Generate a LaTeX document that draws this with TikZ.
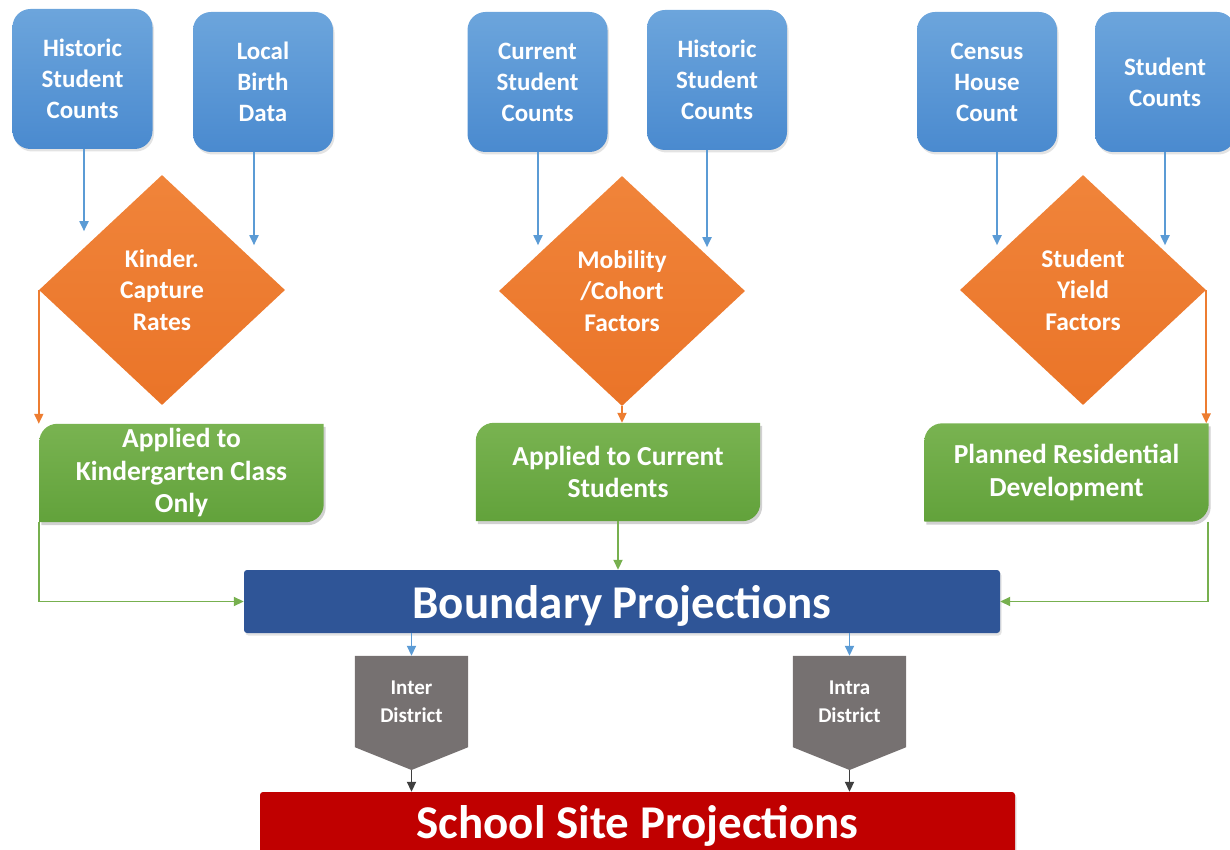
\documentclass[tikz,border=0pt]{standalone}
\usepackage{fontspec}
\setmainfont{Carlito}
\usetikzlibrary{arrows.meta,shapes.geometric,shadows,backgrounds,calc}
\definecolor{btop}{HTML}{6CA5DC}
\definecolor{bbot}{HTML}{4A8ACF}
\definecolor{otop}{HTML}{F0843A}
\definecolor{obot}{HTML}{EA7428}
\definecolor{gtop}{HTML}{79B351}
\definecolor{gbot}{HTML}{62A23B}
\definecolor{bpfill}{HTML}{2F5597}
\definecolor{redfill}{HTML}{C00000}
\definecolor{grayfill}{HTML}{767171}
\definecolor{barc}{HTML}{5B9BD5}
\definecolor{oarc}{HTML}{ED7D31}
\definecolor{garc}{HTML}{77B04F}
\definecolor{darc}{HTML}{3F3F3F}
\newcommand\greenpath[1]{%
  ($(#1.north west)+(0,18)$) .. controls ($(#1.north west)+(0,8)$) and ($(#1.north west)+(8,0)$) .. ($(#1.north west)+(18,0)$) -- (#1.north east) -- ($(#1.south east)+(0,-18)$) .. controls ($(#1.south east)+(0,-8)$) and ($(#1.south east)+(-8,0)$) .. ($(#1.south east)+(-18,0)$) -- (#1.south west) -- cycle}
\newcommand\greenbg[1]{%
  \fill[black,opacity=0.18,transform canvas={shift={(2pt,-3pt)}}] \greenpath{#1};
  \path[top color=gtop,bottom color=gbot] \greenpath{#1};}
\newcommand\pentabg[2]{%
  \fill[grayfill] (#1.north west) -- (#1.north east) -- (#1.south east) -- (#2) -- (#1.south west) -- cycle;}
\begin{document}
\begin{tikzpicture}[x=1pt,y=-1pt,
  inbox/.style={rounded corners=18pt, minimum width=140pt, minimum height=140pt,
    top color=btop, bottom color=bbot, text=white, align=center,
    font=\bfseries\fontsize{25}{31}\selectfont,
    drop shadow={opacity=0.22, shadow xshift=1.5pt, shadow yshift=-2.5pt}},
  dia/.style={diamond, minimum width=246pt, minimum height=230pt, inner sep=0pt,
    top color=otop, bottom color=obot, text=white, align=center,
    font=\bfseries\fontsize{25.5}{31.5}\selectfont},
  gbox/.style={minimum width=284pt, minimum height=98pt, inner sep=0pt, text=white,
    align=center, font=\bfseries\fontsize{27.5}{32.5}\selectfont},
  gray/.style={minimum width=113pt, minimum height=91pt, inner sep=0pt, text=white,
    align=center, font=\bfseries\fontsize{21}{28}\selectfont},
  bigbox/.style={rounded corners=3pt, text=white,
    font=\bfseries\fontsize{47}{50}\selectfont,
    drop shadow={opacity=0.22, shadow xshift=1.5pt, shadow yshift=-2.5pt}},
  arr/.style={line width=1.8pt, -{Triangle[length=10pt,width=9pt]}},
  barrow/.style={arr, barc},
  oarrow/.style={arr, oarc},
  garrow/.style={arr, garc},
  darrow/.style={arr, darc}]
\useasboundingbox (0,0) rectangle (1230,850);

% input boxes
\node[inbox] (b1) at (82.5,79) {Historic\\Student\\Counts};
\node[inbox] (b2) at (263,82) {Local\\Birth\\Data};
\node[inbox] (b3) at (537.5,82) {Current\\Student\\Counts};
\node[inbox] (b4) at (717,80) {Historic\\Student\\Counts};
\node[inbox] (b5) at (987,82) {Census\\House\\Count};
\node[inbox] (b6) at (1165,82) {Student\\Counts};

% diamonds
\node[dia] (d1) at (162,290) {Kinder.\\Capture\\Rates};
\node[dia] (d2) at (622,291) {Mobility\\/Cohort\\Factors};
\node[dia] (d3) at (1083,290) {Student\\Yield\\Factors};

% green boxes
\node[gbox] (g1) at (181.5,473) {Applied to\\Kindergarten Class\\Only};
\node[gbox] (g2) at (618,472) {Applied to Current\\Students};
\node[gbox] (g3) at (1066.5,472.5) {Planned Residential\\Development};
\begin{pgfonlayer}{background}
  \greenbg{g1}\greenbg{g2}\greenbg{g3}
\end{pgfonlayer}

% boundary
\node[bigbox, text depth=0pt, fill=bpfill, minimum width=756pt, minimum height=63pt] (bp) at (622,601.5) {Boundary Projections};

% gray connectors
\node[gray] (inter) at (411.5,701.5) {Inter\\District};
\node[gray] (intra) at (849.5,701.5) {Intra\\District};
\coordinate (intertip) at (411.5,770);
\coordinate (intratip) at (849.5,770);
\begin{pgfonlayer}{background}
  \pentabg{inter}{intertip}
  \pentabg{intra}{intratip}
\end{pgfonlayer}

% school site
\node[bigbox, fill=redfill, minimum width=755pt, minimum height=68pt] (ssp) at (637.5,826) {School Site Projections};

% arrows inputs -> diamonds
\draw[barrow] ([xshift=1.5pt]b1.south) -- +(0,82);
\draw[barrow] ([xshift=-9pt]b2.south) -- +(0,93);
\draw[barrow] ([xshift=0.5pt]b3.south) -- +(0,93);
\draw[barrow] ([xshift=-10pt]b4.south) -- +(0,97);
\draw[barrow] ([xshift=10pt]b5.south) -- +(0,93);
\draw[barrow] (b6.south) -- +(0,93);

% diamonds -> green
\draw[oarrow] (d1.west) -- (d1.west |- g1.north);
\draw[oarrow] (d2.south) -- (d2.south |- g2.north);
\draw[oarrow] (d3.east) -- (d3.east |- g3.north);

% green -> boundary
\draw[garrow] (g1.south west) |- (bp.west);
\draw[garrow] (g2.south) -- (g2.south |- bp.north);
\draw[garrow] ([xshift=-1pt]g3.south east) |- (bp.east);

% boundary -> gray
\draw[barrow] (bp.south -| inter.north) -- (inter.north);
\draw[barrow] (bp.south -| intra.north) -- (intra.north);

% gray -> school
\draw[darrow] (intertip) -- (intertip |- ssp.north);
\draw[darrow] (intratip) -- (intratip |- ssp.north);
\end{tikzpicture}
\end{document}
